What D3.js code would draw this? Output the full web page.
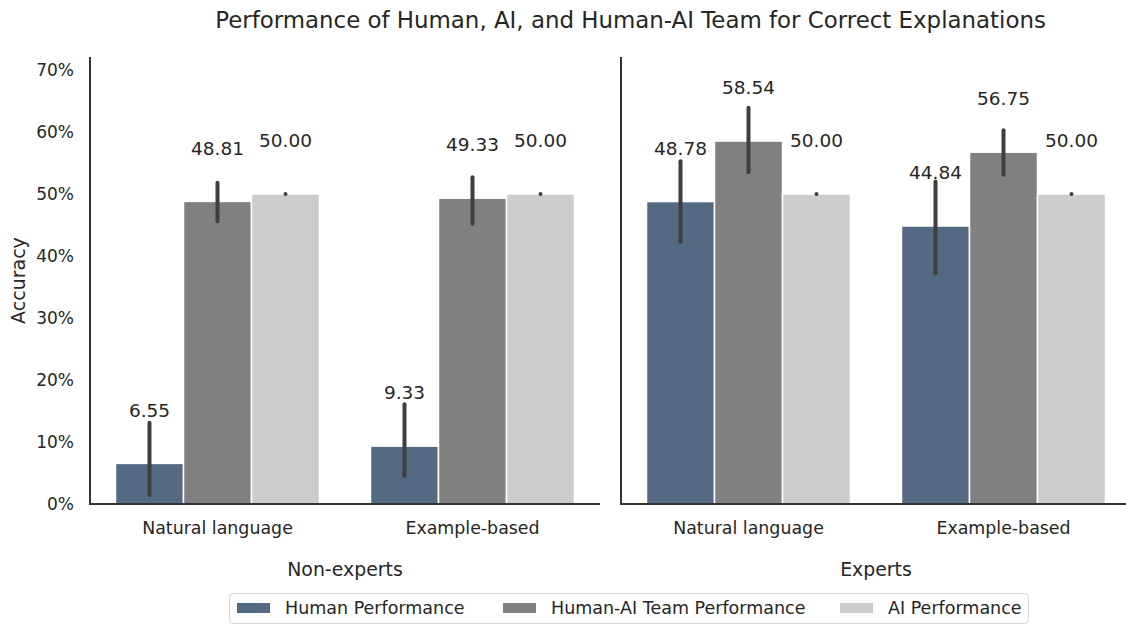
<!DOCTYPE html>
<html>
<head>
<meta charset="utf-8">
<script src="https://cdn.jsdelivr.net/npm/d3@7"></script>
<style>
  html, body { margin: 0; padding: 0; background: #fff; }
  svg { display: block; font-family: "DejaVu Sans", sans-serif; }
</style>
</head>
<body>
<svg id="chart" width="1126" height="627"></svg>
<script>
const panels = ["Non-experts", "Experts"];
const categories = ["Natural language", "Example-based"];
const series = ["Human Performance", "Human-AI Team Performance", "AI Performance"];
const colors = ["#546a83", "#808080", "#cccccc"];
// values[panel][category][series]
const values = [
  [[6.55, 48.81, 50.00], [9.33, 49.33, 50.00]],
  [[48.78, 58.54, 50.00], [44.84, 56.75, 50.00]]
];
const errLow = [
  [[1.45, 45.6, 50.0], [4.5, 45.2, 50.0]],
  [[42.3, 53.5, 50.0], [37.2, 53.1, 50.0]]
];
const errHigh = [
  [[13.1, 51.8, 50.0], [16.1, 52.7, 50.0]],
  [[55.3, 63.9, 50.0], [52.0, 60.3, 50.0]]
];
const yTicks = [0, 10, 20, 30, 40, 50, 60, 70];
const title = "Performance of Human, AI, and Human-AI Team for Correct Explanations";
const yLabel = "Accuracy";

(function () {
const svg = d3.select("#chart");
const plotTop = 57, plotBottom = 504;
const y = d3.scaleLinear().domain([0, 72.1]).range([plotBottom, plotTop]);
const panelRanges = [[90, 600], [621, 1131]];
const ink = "#262626";

svg.append("text").attr("x", 630.5).attr("y", 28).attr("text-anchor", "middle")
  .attr("font-size", 22.9).attr("fill", ink).text(title);

svg.append("text").attr("transform", `translate(25,${(plotTop + plotBottom) / 2}) rotate(-90)`)
  .attr("text-anchor", "middle").attr("font-size", 19).attr("fill", ink).text(yLabel);

panels.forEach((p, pi) => {
  const g = svg.append("g");
  const x0 = d3.scaleBand().domain(categories).range(panelRanges[pi]).padding(0);
  const x1 = d3.scaleBand().domain(series)
    .range([x0.bandwidth() * 0.1, x0.bandwidth() * 0.9]).padding(0);

  categories.forEach((c, ci) => {
    series.forEach((s, si) => {
      const v = values[pi][ci][si];
      const bx = x0(c) + x1(s);
      const cx = bx + x1.bandwidth() / 2;
      g.append("rect").attr("x", bx).attr("y", y(v))
        .attr("width", x1.bandwidth()).attr("height", y(0) - y(v))
        .attr("fill", colors[si]).attr("stroke", "#fff").attr("stroke-width", 1.5);
      g.append("line").attr("x1", cx).attr("x2", cx)
        .attr("y1", y(errLow[pi][ci][si])).attr("y2", y(errHigh[pi][ci][si]))
        .attr("stroke", "#3f3f3f").attr("stroke-width", 4).attr("stroke-linecap", "round");
      g.append("text").attr("x", cx).attr("y", y(v) - 46.7)
        .attr("text-anchor", "middle").attr("font-size", 18.5).attr("fill", ink)
        .text(v.toFixed(2));
    });
  });

  const xa = g.append("g").attr("transform", `translate(0,${plotBottom})`)
    .call(d3.axisBottom(x0).tickSize(0).tickPadding(0).tickSizeOuter(0));
  xa.select(".domain").remove();
  xa.selectAll("text").attr("font-size", 17.4).attr("fill", ink)
    .attr("font-family", "DejaVu Sans").attr("dy", null).attr("y", 30.3);

  const ya = g.append("g").attr("transform", `translate(${panelRanges[pi][0]},0)`)
    .call(d3.axisLeft(y).tickValues(yTicks).tickFormat(d => d + "%").tickSize(0).tickPadding(16));
  ya.select(".domain").remove();
  if (pi === 0) {
    ya.selectAll("text").attr("font-size", 17).attr("fill", ink).attr("font-family", "DejaVu Sans");
  } else {
    ya.selectAll("text").remove();
  }

  g.append("line").attr("x1", panelRanges[pi][0]).attr("x2", panelRanges[pi][0])
    .attr("y1", plotTop).attr("y2", plotBottom + 1).attr("stroke", "#333").attr("stroke-width", 2);
  g.append("line").attr("x1", panelRanges[pi][0]).attr("x2", panelRanges[pi][1])
    .attr("y1", plotBottom).attr("y2", plotBottom).attr("stroke", "#333").attr("stroke-width", 2);

  g.append("text").attr("x", (panelRanges[pi][0] + panelRanges[pi][1]) / 2).attr("y", 576)
    .attr("text-anchor", "middle").attr("font-size", 18.9).attr("fill", ink).text(p);
});

const lg = svg.append("g");
lg.append("rect").attr("x", 229.5).attr("y", 593.5).attr("width", 799).attr("height", 30)
  .attr("rx", 4).attr("fill", "#fff").attr("stroke", "#d6d6d6").attr("stroke-width", 1);
const legX = [237, 503, 840];
series.forEach((s, si) => {
  lg.append("rect").attr("x", legX[si]).attr("y", 603).attr("width", 33).attr("height", 10)
    .attr("fill", colors[si]);
  lg.append("text").attr("x", legX[si] + 48).attr("y", 614.3).attr("font-size", 17.5)
    .attr("fill", ink).text(s);
});
})();
</script>
</body>
</html>
